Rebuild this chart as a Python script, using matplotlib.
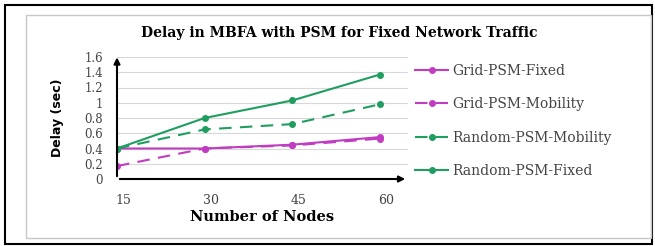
import matplotlib.pyplot as plt
from matplotlib.patches import Rectangle
from matplotlib.transforms import ScaledTranslation

nodes = ['15', '30', '45', '60']
grid_fixed = [0.40, 0.40, 0.45, 0.55]
grid_mobility = [0.17, 0.40, 0.44, 0.53]
random_mobility = [0.40, 0.65, 0.72, 0.98]
random_fixed = [0.40, 0.80, 1.03, 1.37]

magenta = '#C03CC0'
green = '#1F9E60'

fig = plt.figure(figsize=(6.55, 2.46), dpi=100)
W, H = 655, 246

# outer black frame and inner grey chart box
fig.patches.append(Rectangle((5 / W, 2 / H), 647 / W, 239 / H, transform=fig.transFigure,
                             fill=False, ec='black', lw=1.5))
fig.patches.append(Rectangle((26 / W, 1 - 238 / H), 625 / W, 223 / H, transform=fig.transFigure,
                             fill=False, ec='#c8c8c8', lw=1))

ax = fig.add_axes([117 / W, 1 - 179 / H, (408 - 117) / W, (179 - 57) / H])
x = range(len(nodes))
ax.plot(x, grid_fixed, '-', color=magenta, lw=1.5, marker='o', ms=4, label='Grid-PSM-Fixed')
ax.plot(x, grid_mobility, '--', color=magenta, lw=1.5, marker='o', ms=4, dashes=(6, 4),
        label='Grid-PSM-Mobility')
ax.plot(x, random_mobility, '--', color=green, lw=1.5, marker='o', ms=4, dashes=(6, 4),
        label='Random-PSM-Mobility')
ax.plot(x, random_fixed, '-', color=green, lw=1.5, marker='o', ms=4, label='Random-PSM-Fixed')

ax.set_xlim(0, 3.32)
ax.set_ylim(0, 1.6)
ax.set_yticks([0, 0.2, 0.4, 0.6, 0.8, 1, 1.2, 1.4, 1.6])
ax.set_yticklabels(['0', '0.2', '0.4', '0.6', '0.8', '1', '1.2', '1.4', '1.6'],
                   family='DejaVu Serif', fontsize=8.5, color='#444444')
ax.set_xticks(list(x))
ax.set_xticklabels(nodes, family='DejaVu Serif', fontsize=9, color='#444444')
ax.tick_params(length=0, pad=10)
ax.tick_params(axis='x', pad=11)
for lab in ax.get_xticklabels():
    lab.set_transform(lab.get_transform() + ScaledTranslation(6 / 100, 0, fig.dpi_scale_trans))
ax.grid(axis='y', color='#d8d8d8', lw=0.8)
ax.set_axisbelow(True)
for s in ax.spines.values():
    s.set_visible(False)

# axis arrows
ax.annotate('', xy=(0, 1.02), xytext=(0, 0), xycoords='axes fraction',
            arrowprops=dict(arrowstyle='-|>', color='black', lw=1.5, mutation_scale=9))
ax.annotate('', xy=(1.0, 0), xytext=(0, 0), xycoords='axes fraction',
            arrowprops=dict(arrowstyle='-|>', color='black', lw=1.5, mutation_scale=9))

ax.set_ylabel('Delay (sec)', fontsize=9, fontweight='bold', labelpad=15)
ax.set_xlabel('Number of Nodes', family='DejaVu Serif', fontsize=10.5, fontweight='bold', labelpad=2)
fig.text(339 / W, 1 - 33 / H, 'Delay in MBFA with PSM for Fixed Network Traffic',
         ha='center', va='center', family='DejaVu Serif', fontsize=10, fontweight='bold')

ax.legend(loc='upper left', bbox_to_anchor=(1.005, 0.99), frameon=False,
          prop={'family': 'DejaVu Serif', 'size': 10}, handlelength=2.4,
          labelspacing=1.4, handletextpad=0.25, borderaxespad=0.0, labelcolor='#444444')

fig.savefig('out.png', dpi=100)
